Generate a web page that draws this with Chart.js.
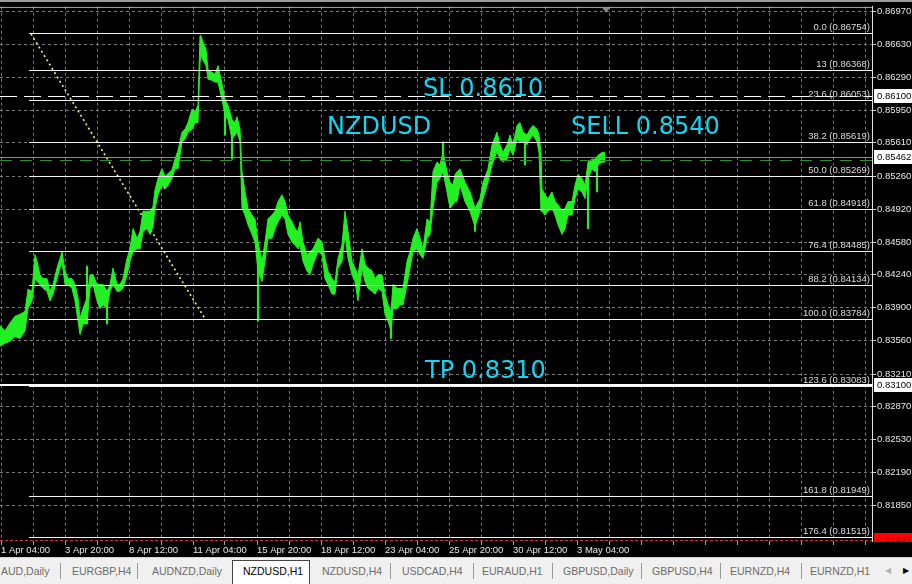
<!DOCTYPE html>
<html>
<head>
<meta charset="utf-8">
<script src="https://cdn.jsdelivr.net/npm/chart.js@4.4.1/dist/chart.umd.min.js"></script>
<style>
  html, body { margin: 0; padding: 0; background: #000; }
  body { width: 912px; height: 584px; overflow: hidden; position: relative; font-family: "Liberation Sans", Arial, sans-serif; }
  #wrap { position: absolute; left: 0; top: 0; width: 912px; height: 557px; }
  #tabs { position: absolute; left: 0; top: 557px; width: 912px; height: 27px; background: #f0f0f0; border-top: 1px solid #d4d4d4; box-sizing: border-box; }
  .tab { position: absolute; top: 0; line-height: 26px; font-size: 10.5px; color: #6b6b6b; white-space: nowrap; }
  .sep { position: absolute; top: 5px; width: 1px; height: 16px; background: #9a9a9a; }
  .active { position: absolute; left: 232px; top: 2px; width: 78px; height: 25px; background: #fff; border: 1px solid #444; border-bottom: none; box-sizing: border-box; }
  .arrow { position: absolute; top: 0; line-height: 26px; font-size: 8px; }
</style>
</head>
<body>
<div id="wrap"><canvas id="chart" width="912" height="557"></canvas></div>
<div id="tabs">
  <div class="tab" style="left:1px">AUD,Daily</div>
  <div class="sep" style="left:60px"></div>
  <div class="tab" style="left:72px">EURGBP,H4</div>
  <div class="sep" style="left:137px"></div>
  <div class="tab" style="left:152px">AUDNZD,Daily</div>
  <div class="active"></div>
  <div class="tab" style="left:243px;color:#000">NZDUSD,H1</div>
  <div class="tab" style="left:322px">NZDUSD,H4</div>
  <div class="sep" style="left:390px"></div>
  <div class="tab" style="left:402px">USDCAD,H4</div>
  <div class="sep" style="left:473px"></div>
  <div class="tab" style="left:482px">EURAUD,H1</div>
  <div class="sep" style="left:552px"></div>
  <div class="tab" style="left:563px">GBPUSD,Daily</div>
  <div class="sep" style="left:641px"></div>
  <div class="tab" style="left:652px">GBPUSD,H4</div>
  <div class="sep" style="left:720px"></div>
  <div class="tab" style="left:730px">EURNZD,H4</div>
  <div class="sep" style="left:801px"></div>
  <div class="tab" style="left:810px">EURNZD,H1</div>
  <div class="arrow" style="left:885px;color:#b4b4b4">&#9664;</div>
  <div class="arrow" style="left:903px;color:#000">&#9654;</div>
</div>
<script>
// --- Data (bar index = hours from 1 Apr 04:00, H1 chart) ---
const barX = [0,5,10,15,20,25,28,32,35,37,40,43,47,50,53,57,60,62,65,68,72,75,78,80,83,87,90,93,97,100,103,107,110,113,117,120,123,127,130,133,137,140,143,147,150,153,155,158,162,165,168,172,175,178,182,185,188,192,195,198,200,201,203,206,208,212,215,218,222,225,228,232,235,237,240,242,245,248,252,255,258,262,265,268,272,275,278,282,285,288,292,295,298,300,303,307,310,313,318,322,325,328,332,335,338,342,345,348,352,355,358,362,365,368,372,375,378,382,385,388,391,393,397,400,403,407,410,413,417,420,423,427,430,433,437,440,443,447,450,453,455,457,460,465,470,475,480,483,488,492,497,500,503,507,510,513,517,520,523,527,530,533,537,539,541,542,545,548,552,555,558,562,565,568,572,575,578,582,585,588,592,595,598,602,605];
const barHigh = [0.8371,0.8366,0.8374,0.8381,0.8383,0.8386,0.8409,0.8407,0.8445,0.8438,0.8424,0.8420,0.8420,0.8407,0.8414,0.8431,0.8441,0.8448,0.8428,0.8420,0.8420,0.8414,0.8400,0.8379,0.8389,0.8400,0.8424,0.8424,0.8414,0.8414,0.8414,0.8407,0.8414,0.8431,0.8414,0.8414,0.8420,0.8441,0.8451,0.8472,0.8462,0.8469,0.8490,0.8490,0.8490,0.8495,0.8512,0.8524,0.8534,0.8526,0.8529,0.8533,0.8544,0.8553,0.8572,0.8575,0.8582,0.8596,0.8593,0.8600,0.8672,0.8672,0.8665,0.8658,0.8637,0.8634,0.8632,0.8641,0.8622,0.8606,0.8600,0.8585,0.8582,0.8588,0.8575,0.8531,0.8510,0.8493,0.8486,0.8482,0.8458,0.8438,0.8458,0.8482,0.8486,0.8490,0.8500,0.8507,0.8500,0.8486,0.8479,0.8472,0.8469,0.8479,0.8458,0.8445,0.8448,0.8451,0.8462,0.8458,0.8441,0.8428,0.8420,0.8417,0.8441,0.8455,0.8490,0.8469,0.8438,0.8431,0.8424,0.8451,0.8435,0.8431,0.8428,0.8420,0.8424,0.8424,0.8404,0.8393,0.8386,0.8414,0.8410,0.8410,0.8410,0.8438,0.8448,0.8462,0.8472,0.8462,0.8451,0.8482,0.8479,0.8531,0.8541,0.8538,0.8551,0.8531,0.8520,0.8517,0.8528,0.8531,0.8534,0.8520,0.8510,0.8493,0.8503,0.8520,0.8534,0.8559,0.8572,0.8559,0.8551,0.8559,0.8569,0.8559,0.8579,0.8582,0.8572,0.8569,0.8575,0.8579,0.8575,0.8569,0.8551,0.8513,0.8507,0.8503,0.8510,0.8500,0.8497,0.8490,0.8493,0.8500,0.8500,0.8517,0.8528,0.8524,0.8517,0.8541,0.8544,0.8544,0.8548,0.8551,0.8551];
const barLow = [0.8350,0.8353,0.8355,0.8360,0.8358,0.8366,0.8389,0.8397,0.8420,0.8417,0.8414,0.8410,0.8407,0.8397,0.8404,0.8420,0.8431,0.8438,0.8414,0.8414,0.8410,0.8397,0.8376,0.8362,0.8373,0.8373,0.8410,0.8414,0.8397,0.8389,0.8393,0.8389,0.8407,0.8414,0.8407,0.8407,0.8410,0.8424,0.8438,0.8448,0.8451,0.8451,0.8469,0.8472,0.8466,0.8474,0.8493,0.8507,0.8517,0.8513,0.8517,0.8524,0.8534,0.8534,0.8562,0.8565,0.8572,0.8575,0.8582,0.8582,0.8644,0.8652,0.8647,0.8641,0.8627,0.8626,0.8624,0.8624,0.8606,0.8590,0.8585,0.8565,0.8569,0.8572,0.8562,0.8493,0.8486,0.8476,0.8466,0.8458,0.8428,0.8417,0.8438,0.8462,0.8462,0.8472,0.8479,0.8486,0.8482,0.8466,0.8458,0.8455,0.8451,0.8455,0.8438,0.8428,0.8424,0.8435,0.8448,0.8445,0.8420,0.8414,0.8404,0.8404,0.8431,0.8438,0.8466,0.8441,0.8424,0.8417,0.8397,0.8431,0.8417,0.8410,0.8407,0.8404,0.8410,0.8407,0.8383,0.8376,0.8366,0.8389,0.8389,0.8393,0.8393,0.8414,0.8431,0.8448,0.8451,0.8445,0.8441,0.8462,0.8466,0.8493,0.8520,0.8524,0.8531,0.8510,0.8493,0.8497,0.8500,0.8500,0.8517,0.8500,0.8490,0.8474,0.8490,0.8503,0.8520,0.8538,0.8552,0.8544,0.8541,0.8544,0.8555,0.8548,0.8565,0.8562,0.8562,0.8559,0.8565,0.8569,0.8562,0.8551,0.8490,0.8490,0.8486,0.8490,0.8493,0.8486,0.8476,0.8466,0.8472,0.8486,0.8486,0.8503,0.8513,0.8510,0.8503,0.8524,0.8534,0.8531,0.8538,0.8541,0.8541];

// single-bar wicks that stick out of the band
const spikeX = [87, 107, 225, 232, 258, 391, 443, 475, 525, 588, 597];
const spikeHigh = [0.8433, 0.8400, 0.8600, 0.8575, 0.8451, 0.8380, 0.8562, 0.8490, 0.8565, 0.8530, 0.8540];
const spikeLow = [0.8373, 0.8373, 0.8569, 0.8544, 0.8376, 0.8358, 0.8540, 0.8469, 0.8538, 0.8472, 0.8510];

const priceTicks = [0.86970, 0.86630, 0.86290, 0.85950, 0.85610, 0.85260, 0.84920, 0.84580, 0.84240, 0.83900, 0.83560, 0.83210, 0.82870, 0.82530, 0.82190, 0.81850];
const timeLabels = ['1 Apr 04:00', '3 Apr 20:00', '8 Apr 12:00', '11 Apr 04:00', '15 Apr 20:00', '18 Apr 12:00', '23 Apr 04:00', '25 Apr 20:00', '30 Apr 12:00', '3 May 04:00'];
const gridBars = Array.from({ length: 28 }, (_, i) => 1 + i * 32);

// fibonacci retracement
const fibNames = ['0.0', '13', '23.6', '38.2', '50.0', '61.8', '76.4', '88.2', '100.0', '123.6', '161.8', '176.4'];
const fibPrices = [0.86754, 0.86368, 0.86053, 0.85619, 0.85269, 0.84918, 0.84485, 0.84134, 0.83784, 0.83083, 0.81949, 0.81515];
const fibFromBar = 29;
const fibTrendX = [31, 205];
const fibTrendY = [0.86740, 0.83784];

// trade levels
const slPrice = 0.86100;
const tpPrice = 0.83100;
const bidPrice = 0.85462;
const orderPrice = 0.85435;
const lowAlertPrice = 0.81491;

const noteTexts = ['SL 0.8610', 'NZDUSD', 'SELL 0.8540', 'TP 0.8310'];
const noteBars = [423, 327, 571, 425];
const notePrices = [0.86100, 0.85700, 0.85700, 0.83171];

const markPrices = [0.86100, 0.85462, 0.83100, 0.81491];
const markFill = ['#ffffff', '#ffffff', '#ffffff', '#ff0000'];
const markInk = ['#000000', '#000000', '#000000', '#9a0000'];

const GREEN = '#22f022';
const AXIS_FONT = { family: 'Liberation Sans', size: 9.5 };

// --- Overlay objects (fib, SL/TP lines, texts) ---
const overlayPlugin = {
    id: 'overlay',
    beforeDraw(chart) {
        const { ctx, width, height } = chart;
        ctx.save();
        ctx.fillStyle = '#000';
        ctx.fillRect(0, 0, width, height);
        ctx.restore();
    },
    afterDatasetsDraw(chart) {
        const { ctx, chartArea: a, scales: { x, y } } = chart;
        ctx.save();
        ctx.beginPath();
        ctx.rect(a.left, a.top, a.right - a.left, a.bottom - a.top);
        ctx.clip();

        const hline = (p, x0, color, width, dash) => {
            const py = Math.round(y.getPixelForValue(p)) + (width % 2 ? 0.5 : 0);
            ctx.strokeStyle = color;
            ctx.lineWidth = width;
            ctx.setLineDash(dash);
            ctx.beginPath();
            ctx.moveTo(x0, py);
            ctx.lineTo(a.right, py);
            ctx.stroke();
        };

        const fx = x.getPixelForValue(fibFromBar);
        fibPrices.forEach(p => hline(p, fx, '#f2f2f2', 1, []));

        hline(bidPrice, a.left, '#8c8c96', 1, []);
        hline(orderPrice, a.left, '#2f8f2f', 1, [12, 8]);
        hline(slPrice, a.left, '#ffffff', 1, [17, 7]);
        hline(tpPrice, a.left, '#ffffff', 2, []);
        hline(lowAlertPrice, a.left, '#d03030', 1, [3, 2]);

        // fib level captions
        ctx.setLineDash([]);
        ctx.font = '9.5px "Liberation Sans"';
        ctx.fillStyle = '#dcdcdc';
        ctx.textAlign = 'right';
        ctx.textBaseline = 'alphabetic';
        fibPrices.forEach((p, i) => {
            ctx.fillText(`${fibNames[i]} (${p.toFixed(5)})`, a.right - 2, y.getPixelForValue(p) - 3);
        });

        // chart notes
        ctx.font = '24px "DejaVu Sans"';
        ctx.fillStyle = '#14d6f0';
        ctx.textAlign = 'left';
        noteTexts.forEach((t, i) => {
            ctx.fillText(t, x.getPixelForValue(noteBars[i]), y.getPixelForValue(notePrices[i]));
        });

        // frame top + chart shift marker
        ctx.strokeStyle = '#d8d8d8';
        ctx.lineWidth = 1;
        ctx.beginPath();
        ctx.moveTo(a.left, a.top + 0.5);
        ctx.lineTo(a.right, a.top + 0.5);
        ctx.stroke();
        const sx = x.getPixelForValue(barX[barX.length - 1]) + 1;
        ctx.fillStyle = '#8a8a8a';
        ctx.beginPath();
        ctx.moveTo(sx - 4, a.top + 1);
        ctx.lineTo(sx + 4, a.top + 1);
        ctx.lineTo(sx, a.top + 6);
        ctx.closePath();
        ctx.fill();
        ctx.restore();
    },
    afterDraw(chart) {
        const { ctx, chartArea: a, scales: { y } } = chart;
        ctx.save();
        ctx.fillStyle = '#9a9a9a';
        ctx.fillRect(0, 0, chart.width, 2);
        ctx.beginPath();
        ctx.rect(a.right + 1, 0, chart.width - a.right, a.bottom + 1);
        ctx.clip();
        ctx.font = '9.5px "Liberation Sans"';
        ctx.textAlign = 'left';
        ctx.textBaseline = 'middle';
        markPrices.forEach((p, i) => {
            const py = Math.round(y.getPixelForValue(p));
            ctx.fillStyle = markFill[i];
            ctx.fillRect(a.right + 2, py - 7, chart.width - a.right - 2, 14);
            ctx.fillStyle = markInk[i];
            ctx.fillText(p.toFixed(5), a.right + 5, py + 0.5);
        });
        ctx.restore();
    }
};

const ctx = document.getElementById('chart').getContext('2d');
new Chart(ctx, {
    type: 'line',
    data: {
        datasets: [
            {
                label: 'High',
                data: barX.map((b, i) => ({ x: b, y: barHigh[i] })),
                borderColor: GREEN,
                borderWidth: 1,
                pointRadius: 0,
                tension: 0,
                fill: false
            },
            {
                label: 'Low',
                data: barX.map((b, i) => ({ x: b, y: barLow[i] })),
                borderColor: GREEN,
                backgroundColor: GREEN,
                borderWidth: 1,
                pointRadius: 0,
                tension: 0,
                fill: '-1'
            },
            {
                type: 'bar',
                label: 'Wicks',
                data: spikeX.map((b, i) => ({ x: b, y: [spikeLow[i], spikeHigh[i]] })),
                backgroundColor: GREEN,
                barThickness: 1.5,
                grouped: false
            },
            {
                label: 'Fib trend',
                data: fibTrendX.map((b, i) => ({ x: b, y: fibTrendY[i] })),
                borderColor: '#f4f47c',
                borderWidth: 1.6,
                borderDash: [2, 3],
                pointRadius: 0,
                fill: false
            }
        ]
    },
    options: {
        responsive: false,
        animation: false,
        events: [],
        layout: { padding: { top: 4, left: 0, right: 0, bottom: 0 } },
        plugins: { legend: { display: false }, tooltip: { enabled: false } },
        scales: {
            x: {
                type: 'linear',
                position: 'bottom',
                min: 0,
                max: 872,
                offset: false,
                afterBuildTicks: s => { s.ticks = gridBars.map(v => ({ value: v })); },
                afterFit: s => { s.height = 16; },
                grid: { color: '#7a7a7a', lineWidth: 1, tickLength: 4, tickColor: '#a0a0a0', offset: false },
                border: { display: false, dash: [3, 3] },
                ticks: {
                    color: '#e8e8e8',
                    font: AXIS_FONT,
                    padding: 0,
                    align: 'start',
                    autoSkip: false,
                    maxRotation: 0,
                    minRotation: 0,
                    callback: v => {
                        const i = (v - 1) / 64;
                        return Number.isInteger(i) && i < timeLabels.length ? timeLabels[i] : '';
                    }
                }
            },
            y: {
                type: 'linear',
                position: 'right',
                min: 0.81478,
                max: 0.87022,
                afterBuildTicks: s => { s.ticks = priceTicks.map(v => ({ value: v })); },
                afterFit: s => { s.width = 40; },
                grid: { color: '#7a7a7a', lineWidth: 1, tickLength: 4, tickColor: '#d0d0d0' },
                border: { display: true, color: '#e0e0e0', width: 1, dash: [3, 3] },
                ticks: {
                    color: '#e8e8e8',
                    font: AXIS_FONT,
                    padding: 1,
                    autoSkip: false,
                    callback: v => v.toFixed(5)
                }
            }
        }
    },
    plugins: [overlayPlugin]
});
</script>
</body>
</html>
